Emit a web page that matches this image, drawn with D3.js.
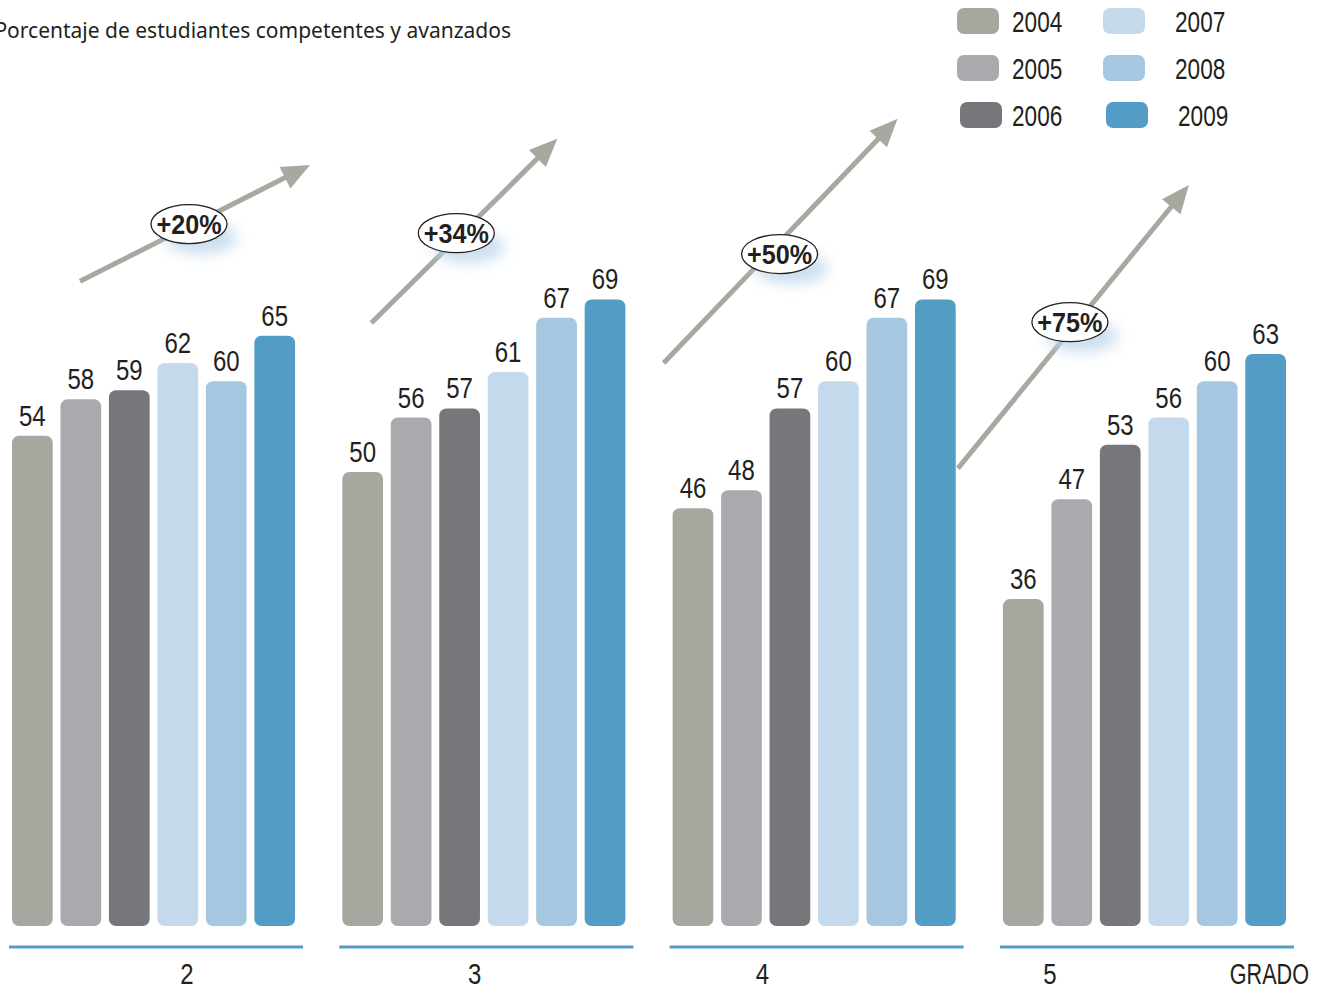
<!DOCTYPE html>
<html lang="es">
<head>
<meta charset="utf-8">
<script src="https://cdn.jsdelivr.net/npm/d3@7/dist/d3.min.js"></script>
<style>
  html, body { margin: 0; padding: 0; background: #ffffff; }
  svg { display: block; }
  .num { font-family: "Liberation Sans", Arial, sans-serif; }
</style>
</head>
<body>
<svg id="chart" width="1320" height="990"></svg>
<script>
// Grades shown along the bottom
const grades = ["2", "3", "4", "5"];
// Survey years, one bar per year in each grade
const years = ["2004", "2005", "2006", "2007", "2008", "2009"];
// Share of students at proficient or advanced level, by grade and year
const grade2 = [54, 58, 59, 62, 60, 65];
const grade3 = [50, 56, 57, 61, 67, 69];
const grade4 = [46, 48, 57, 60, 67, 69];
const grade5 = [36, 47, 53, 56, 60, 63];
const valuesByGrade = [grade2, grade3, grade4, grade5];
// Growth between 2004 and 2009 shown on each arrow badge
const growthLabels = ["+20%", "+34%", "+50%", "+75%"];
const yearColors = ["#a7a79f", "#a9aaae", "#76777b", "#c5d9ec", "#a5c7df", "#529cc6"];

const title = "Porcentaje de estudiantes competentes y avanzados";
const axisTitle = "GRADO";

// Arrow layout per grade: offsets from the group's left edge (px) and heights on the value scale
const arrowLayout = [
  { x0: 68,  v0: 71.0, x1: 298, v1: 83.8, bx: 177, bv: 77.3 },
  { x0: 29,  v0: 66.4, x1: 215, v1: 86.7, bx: 114, bv: 76.3 },
  { x0: -9,  v0: 62.0, x1: 225, v1: 88.9, bx: 107, bv: 74.0 },
  { x0: -45, v0: 50.4, x1: 186, v1: 81.6, bx: 67,  bv: 66.5 }
];

// Condensed lettering: a horizontal squeeze of the regular face
const SQUEEZE = 0.8;
function condensedText(sel, x, y, sx) {
  return sel.attr("transform", `translate(${x},${y}) scale(${sx || SQUEEZE},1)`);
}

const svg = d3.select("#chart");

// Scales
const y = d3.scaleLinear().domain([0, 100]).range([926, 18]);
const xGroup = d3.scaleBand().domain(grades).range([12, 1286]).paddingInner(0.143);
const xBar = d3.scaleBand().domain(years).range([0, xGroup.bandwidth()]).paddingInner(0.16);
const xLabel = d3.scalePoint().domain(grades).range([187, 1050]);

// Soft bluish glow behind badges
const defs = svg.append("defs");
defs.append("filter").attr("id", "glow")
  .attr("x", "-60%").attr("y", "-60%").attr("width", "220%").attr("height", "220%")
  .append("feGaussianBlur").attr("stdDeviation", 7);

// Title (runs off the left edge)
svg.append("text")
  .attr("x", 511).attr("y", 38)
  .attr("text-anchor", "end")
  .attr("font-family", "'Noto Sans', 'Open Sans', sans-serif")
  .attr("font-size", 21)
  .attr("fill", "#231f20")
  .text(title);

// Legend
const legend = svg.append("g");
years.forEach((yr, i) => {
  const col = Math.floor(i / 3), row = i % 3;
  const g = legend.append("g")
    .attr("transform", `translate(${957 + col * 146 + (row === 2 ? 3 : 0)},${8 + row * 47})`);
  g.append("rect").attr("width", 42).attr("height", 26).attr("rx", 7)
    .attr("fill", yearColors[i]);
  condensedText(g.append("text").attr("class", "num"), col === 0 ? 55 - (row === 2 ? 3 : 0) : 72, 24, 0.78)
    .attr("font-size", 29).attr("fill", "#231f20")
    .text(yr);
});

// Bars and value labels
const groups = svg.selectAll("g.grade")
  .data(grades.map((g, i) => ({ grade: g, values: valuesByGrade[i], idx: i })))
  .join("g")
  .attr("class", "grade")
  .attr("transform", d => `translate(${xGroup(d.grade)},0)`);

const barData = d => d.values.map((v, j) => ({ year: years[j], v, j }));

groups.selectAll("rect.bar")
  .data(barData)
  .join("rect")
  .attr("class", "bar")
  .attr("x", d => xBar(d.year))
  .attr("y", d => y(d.v))
  .attr("width", xBar.bandwidth())
  .attr("height", d => y(0) - y(d.v))
  .attr("rx", 7)
  .attr("fill", d => yearColors[d.j]);

groups.selectAll("text.val")
  .data(barData)
  .join("text")
  .attr("class", "num val")
  .attr("text-anchor", "middle")
  .attr("font-size", 30)
  .attr("fill", "#231f20")
  .attr("transform", d => `translate(${xBar(d.year) + xBar.bandwidth() / 2},${y(d.v) - 10}) scale(${SQUEEZE},1)`)
  .text(d => d.v);

// Baseline segment under each grade
groups.append("line")
  .attr("x1", -3).attr("x2", xGroup.bandwidth() + 8)
  .attr("y1", 947).attr("y2", 947)
  .attr("stroke", "#529cc6").attr("stroke-width", 3);

// Grade labels
svg.selectAll("text.grade-label")
  .data(grades)
  .join("text")
  .attr("class", "num grade-label")
  .attr("text-anchor", "middle")
  .attr("font-size", 30)
  .attr("fill", "#231f20")
  .attr("transform", d => `translate(${xLabel(d)},984) scale(${SQUEEZE},1)`)
  .text(d => d);

condensedText(svg.append("text").attr("class", "num"), 1309, 984, 0.72)
  .attr("text-anchor", "end")
  .attr("font-size", 30)
  .attr("fill", "#231f20")
  .text(axisTitle);

// Growth arrows with badges
const arrowColor = "#a8a8a0";
groups.each(function (d) {
  const a = arrowLayout[d.idx];
  const g = d3.select(this).append("g");
  const x0 = a.x0, y0 = y(a.v0), x1 = a.x1, y1 = y(a.v1);
  const ang = Math.atan2(y1 - y0, x1 - x0);
  const headLen = 28, headHalf = 12;
  const hx = x1 - headLen * Math.cos(ang), hy = y1 - headLen * Math.sin(ang);
  g.append("line")
    .attr("x1", x0).attr("y1", y0)
    .attr("x2", hx + 2 * Math.cos(ang)).attr("y2", hy + 2 * Math.sin(ang))
    .attr("stroke", arrowColor).attr("stroke-width", 5);
  const px = -Math.sin(ang), py = Math.cos(ang);
  g.append("path")
    .attr("d", `M${x1},${y1}L${hx + px * headHalf},${hy + py * headHalf}L${hx - px * headHalf},${hy - py * headHalf}Z`)
    .attr("fill", arrowColor);

  const cx = a.bx, cy = y(a.bv);
  g.append("ellipse")
    .attr("cx", cx + 12).attr("cy", cy + 14)
    .attr("rx", 36).attr("ry", 16)
    .attr("fill", "#c3d9ec").attr("opacity", 0.85)
    .attr("filter", "url(#glow)");
  g.append("ellipse")
    .attr("cx", cx).attr("cy", cy)
    .attr("rx", 38).attr("ry", 19.5)
    .attr("fill", "#ffffff").attr("stroke", "#231f20").attr("stroke-width", 1.3);
  condensedText(g.append("text").attr("class", "num"), cx, cy + 10, 0.9)
    .attr("text-anchor", "middle")
    .attr("font-size", 28).attr("font-weight", "bold")
    .attr("fill", "#231f20")
    .text(growthLabels[d.idx]);
});
</script>
</body>
</html>
